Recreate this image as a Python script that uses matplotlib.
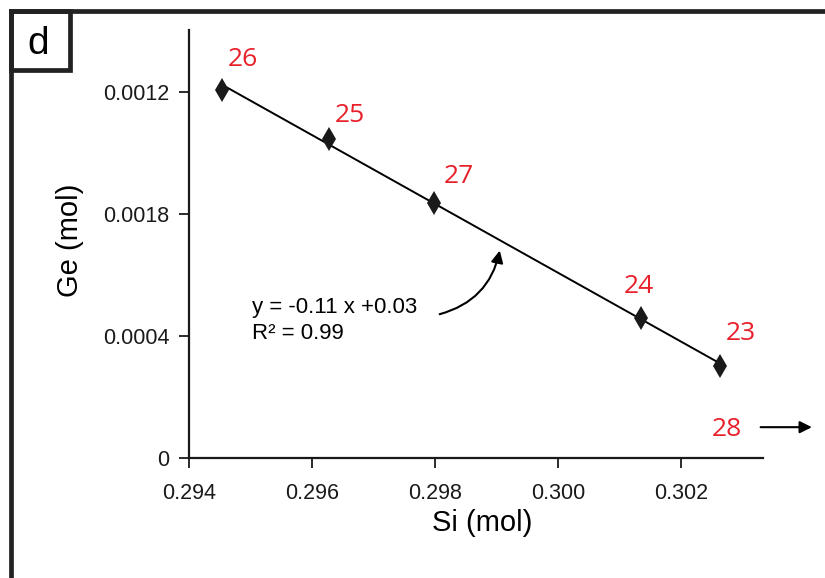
import numpy as np
import matplotlib
matplotlib.use("Agg")
import matplotlib.pyplot as plt
from matplotlib.patches import Rectangle
from matplotlib.lines import Line2D

# ── Data ──────────────────────────────────────────────────────────────────────
sample_ids = ["26", "25", "27", "24", "23"]
si_mol = [0.29454, 0.29628, 0.29798, 0.30135, 0.30263]
ge_mol = [0.001207, 0.001046, 0.000836, 0.000459, 0.000302]

y_ticks = [0, 0.0004, 0.0008, 0.0012]
y_tick_labels = ["0", "0.0004", "0.0018", "0.0012"]
x_ticks = [0.294, 0.296, 0.298, 0.300, 0.302]
x_tick_labels = ["0.294", "0.296", "0.298", "0.300", "0.302"]

# label offsets (points) for the red sample numbers
label_offsets = [(15, 22), (15, 17), (18, 19), (-2, 23), (15, 23)]

RED = "#e8202a"
INK = "#1a1a1a"

plt.rcParams.update({
    "font.family": ["Liberation Sans", "DejaVu Sans"],
    "font.size": 15,
})

fig = plt.figure(figsize=(8.25, 5.78), dpi=100)
ax = fig.add_axes([189 / 825, 1 - 458 / 578, (763 - 189) / 825, (458 - 30) / 578])

# fit line through the samples
k, b = np.polyfit(si_mol, ge_mol, 1)
xs = np.array([min(si_mol), max(si_mol)])
ax.plot(xs, k * xs + b, color="black", linewidth=1.4, zorder=2)

ax.plot(si_mol, ge_mol, linestyle="none", marker="d", markersize=12.5,
        markeredgewidth=0, color=INK, zorder=3)

for sid, x, y, off in zip(sample_ids, si_mol, ge_mol, label_offsets):
    ax.annotate(sid, (x, y), xytext=off, textcoords="offset points",
                color=RED, fontsize=19, family="Open Sans",
                ha="center", va="center")

# equation + curved arrow
ax.text(0.29502, 0.000450, "y = -0.11 x +0.03\nR² = 0.99",
        fontsize=16, ha="left", va="center", linespacing=1.3)
ax.annotate("", xy=(0.29906, 0.000689), xytext=(0.29803, 0.000469),
            arrowprops=dict(arrowstyle="-|>", color="black", lw=1.5,
                            mutation_scale=18,
                            connectionstyle="arc3,rad=0.32"))

# sample 28 plots off the right edge
ax.annotate("28", (0.30275, 0.000095), color=RED, fontsize=19,
            family="Open Sans", ha="center", va="center", annotation_clip=False)
ax.annotate("", xy=(1.090, 0.072), xytext=(0.991, 0.072),
            xycoords="axes fraction", annotation_clip=False,
            arrowprops=dict(arrowstyle="-|>", color="black", lw=1.5, mutation_scale=18))

ax.set_xlim(0.294, 0.30333)
ax.set_ylim(0, 0.001403)
ax.set_xticks(x_ticks)
ax.set_xticklabels(x_tick_labels)
ax.set_yticks(y_ticks)
ax.set_yticklabels(y_tick_labels)
ax.tick_params(direction="out", length=7, width=1.3, colors=INK, labelsize=15.5)
ax.tick_params(axis="x", pad=11)
ax.tick_params(axis="y", pad=7)
for side in ["top", "right"]:
    ax.spines[side].set_visible(False)
for side in ["left", "bottom"]:
    ax.spines[side].set_linewidth(1.6)
    ax.spines[side].set_color(INK)

ax.set_xlabel("Si (mol)", fontsize=21)
ax.set_ylabel("Ge (mol)", fontsize=21)
ax.xaxis.set_label_coords(0.51, -0.118)
ax.yaxis.set_label_coords(-0.183, 0.509)

# frame and panel letter
lw = 3.4
frame = "#222222"
fig.add_artist(Line2D([11 / 825, 11 / 825], [0, 1 - 11 / 578], transform=fig.transFigure,
                      color=frame, linewidth=lw))
fig.add_artist(Line2D([11 / 825, 1], [1 - 11 / 578, 1 - 11 / 578], transform=fig.transFigure,
                      color=frame, linewidth=lw))
fig.add_artist(Rectangle((11 / 825, 1 - 70 / 578), 59 / 825, 59 / 578, transform=fig.transFigure,
                         fill=False, edgecolor=frame, linewidth=lw))
fig.text(38 / 825, 1 - 44 / 578, "d", fontsize=28, ha="center", va="center")

fig.savefig("out.png", dpi=100)
